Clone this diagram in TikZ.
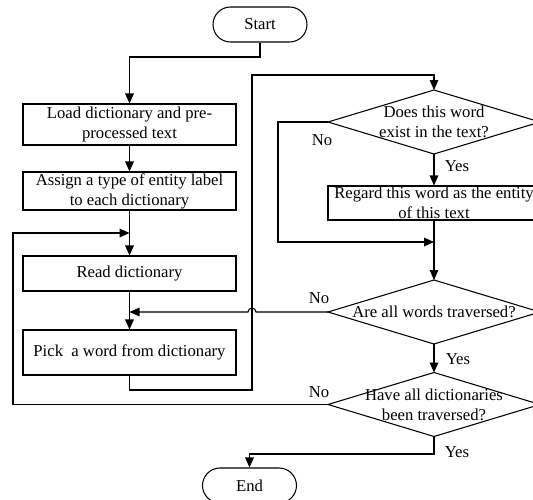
\documentclass[tikz,border=0pt]{standalone}
\usepackage{fontspec}
\setmainfont{Liberation Serif}
\usetikzlibrary{arrows.meta,shapes.misc}
\begin{document}
\begin{tikzpicture}[x=0.75pt,y=-0.75pt,
  font=\fontsize{12.5}{15}\selectfont,
  line/.style={line width=0.8pt},
  arr/.style={line, -{Triangle[length=7.5pt,width=6.5pt]}},
  box/.style={line, draw, rectangle, inner sep=0pt, minimum width=159.75pt, align=center},
  term/.style={line, draw, rounded rectangle, inner sep=0pt, minimum width=70.5pt, minimum height=26.25pt},
  lbl/.style={inner sep=0pt},
  decision/.pic={
    \draw[line] (0,-32) -- (106,0) -- (0,32) -- (-106,0) -- cycle;
    \coordinate (-n) at (0,-32);
    \coordinate (-s) at (0,32);
    \coordinate (-w) at (-106,0);
  }
]
\useasboundingbox (0,0) rectangle (533,500);
\fill[white] (0,0) rectangle (533,500);
\clip (0,0) rectangle (533,500);

% terminals and process boxes
\node[term] (start) at (260,24.5) {Start};
\node[box, minimum height=30.75pt] (load) at (129.5,124.5) {Load dictionary and pre-\\processed text};
\node[box, minimum height=28.5pt] (assign) at (129.5,191) {Assign a type of entity label\\to each dictionary};
\node[box, minimum height=26.25pt] (read) at (129.5,273.5) {Read dictionary};
\node[box, minimum height=33.75pt] (pick) at (129.5,352.5) {Pick~ a word from dictionary};
\node[term] (end) at (249.5,485.5) {End};

% decisions
\pic (q1) at (434,122) {decision};
\node[lbl, align=center] (q1t) at (434,122) {Does this word\\exist in the text?};
\pic (q2) at (434,312) {decision};
\node[lbl] (q2t) at (434,312) {Are all words traversed?};
\pic (q3) at (434,404.5) {decision};
\node[lbl, align=center] (q3t) at (434,404.5) {Have all dictionaries\\been traversed?};

% entity box (text wider than the frame)
\node[box, minimum width=159pt, minimum height=25.5pt] (regard) at (434,203) {};
\node[lbl, align=center] (regardt) at (regard) {Regard this word as the entity\\of this text};

% main flow
\draw[arr] (start.south) -- (start.south |- 0,57) -| (load.north);
\draw[arr] (load.south) -- (assign.north);
\draw[arr] (assign.south) -- (read.north);
\draw[arr] (read.south) -- (pick.north);
\draw[arr] (pick.south) |- (252,390) -- (252,75) -| (q1-n);
\draw[arr] (q1-s) -- (regard.north);
\draw[arr] (q1-w) -- (278,122) -- (278,242) -- (regard.south |- 0,242);
\draw[arr] (regard.south) -- (q2-n);
\draw[arr] (q2-w) -- (256,312) arc[start angle=0,end angle=180,radius=3pt] -- (read.south |- 0,312);
\draw[arr] (q2-s) -- (q3-n);
\draw[arr] (q3-w) -- (13,404.5) -- (13,233) -- (assign.south |- 0,233);
\draw[arr] (q3-s) -- (434,454) -| (end.north);

% branch labels
\node[lbl] (y1) at (457,166) {Yes};
\node[lbl] (y2) at (458,359) {Yes};
\node[lbl] (y3) at (457,452) {Yes};
\node[lbl] (n1) at (322,140) {No};
\node[lbl] (n2) at (319,298) {No};
\node[lbl] (n3) at (319,392) {No};
\end{tikzpicture}
\end{document}
